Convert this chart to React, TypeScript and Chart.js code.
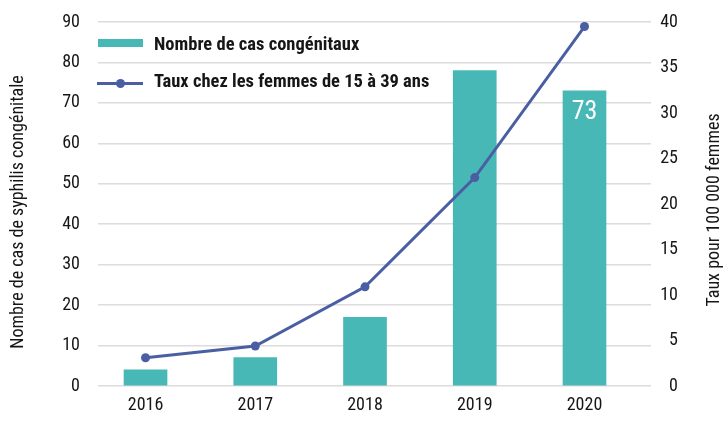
import React, { useEffect, useRef } from 'react';
import { Chart, registerables } from 'chart.js';

Chart.register(...registerables);

const years = ['2016', '2017', '2018', '2019', '2020'];
const congenitalCases = [4, 7, 17, 78, 73];
const rateWomen15to39 = [3.1, 4.4, 10.9, 22.9, 39.5];
const labelledBarIndex = 4;

const casesLabel = 'Nombre de cas congénitaux';
const rateLabel = 'Taux chez les femmes de 15 à 39 ans';
const leftTitle = 'Nombre de cas de syphilis congénitale';
const rightTitle = 'Taux pour 100 000 femmes';

const FONT = '"Roboto Condensed", "Liberation Sans Narrow", "DejaVu Sans Condensed", sans-serif';
const TEAL = '#48b8b7';
const BLUE = '#4a5fa3';
const TEXT = '#161616';

const barLabelPlugin = {
  id: 'barLabel',
  afterDatasetsDraw(chart: any) {
    const meta = chart.getDatasetMeta(1);
    const el = meta.data[labelledBarIndex];
    if (!el) return;
    const ctx = chart.ctx;
    ctx.save();
    ctx.fillStyle = '#ffffff';
    ctx.font = `26px ${FONT}`;
    ctx.textAlign = 'center';
    ctx.textBaseline = 'alphabetic';
    ctx.fillText(String(congenitalCases[labelledBarIndex]), el.x, el.y + 28);
    ctx.restore();
  },
};

const axisTitlePlugin = {
  id: 'axisTitles',
  afterDraw(chart: any) {
    const { ctx, chartArea } = chart;
    const cy = (chartArea.top + chartArea.bottom) / 2;
    ctx.save();
    ctx.font = `18px ${FONT}`;
    ctx.fillStyle = TEXT;
    ctx.textAlign = 'center';
    ctx.textBaseline = 'alphabetic';
    ctx.save();
    ctx.translate(23, cy + 8);
    ctx.rotate(-Math.PI / 2);
    ctx.fillText(leftTitle, 0, 0);
    ctx.restore();
    ctx.save();
    ctx.translate(719, cy + 6);
    ctx.rotate(-Math.PI / 2);
    ctx.fillText(rightTitle, 0, 0);
    ctx.restore();
    ctx.restore();
  },
};

const noPadY = (w: number) => (s: any) => {
  s.width = w;
  s.paddingTop = 0;
  s.paddingBottom = 0;
};

export default function App() {
  const canvasRef = useRef<HTMLCanvasElement | null>(null);

  useEffect(() => {
    const canvas = canvasRef.current;
    if (!canvas) return;
    const tickFont = { family: FONT, size: 18 };
    const chart = new Chart(canvas, {
      type: 'bar',
      data: {
        datasets: [
          {
            type: 'line',
            label: rateLabel,
            data: rateWomen15to39.map((v, i) => ({ x: i, y: v })),
            yAxisID: 'y1',
            borderColor: BLUE,
            backgroundColor: BLUE,
            borderWidth: 3,
            pointRadius: 4.5,
            pointBackgroundColor: BLUE,
            pointBorderWidth: 0,
            tension: 0,
            order: 0,
          } as any,
          {
            type: 'bar',
            label: casesLabel,
            data: congenitalCases.map((v, i) => ({ x: i, y: v })),
            yAxisID: 'y',
            backgroundColor: TEAL,
            borderWidth: 0,
            barThickness: 43,
            order: 1,
          } as any,
        ],
      },
      options: {
        animation: false,
        responsive: true,
        maintainAspectRatio: false,
        layout: { padding: { top: 22, left: 0, right: 47, bottom: 0 } },
        plugins: {
          legend: { display: false },
          tooltip: { enabled: false },
        },
        scales: {
          x: {
            type: 'linear',
            offset: false,
            min: -0.433,
            max: 4.606,
            grid: { display: false, drawTicks: false },
            border: { display: false },
            afterBuildTicks: (s: any) => {
              s.ticks = years.map((_, i) => ({ value: i }));
            },
            ticks: {
              font: tickFont,
              color: TEXT,
              padding: 9,
              autoSkip: false,
              maxRotation: 0,
              callback: (v: any) => years[Math.round(Number(v))] ?? '',
            },
            afterFit: (s: any) => {
              s.height = 36;
              s.paddingLeft = 0;
              s.paddingRight = 0;
            },
          } as any,
          y: {
            position: 'left',
            min: 0,
            max: 90,
            ticks: { stepSize: 10, font: tickFont, color: TEXT, padding: 18 },
            grid: { color: '#dcdcdc', lineWidth: 1.5, drawTicks: false },
            border: { display: false },
            afterFit: noPadY(98),
          },
          y1: {
            position: 'right',
            min: 0,
            max: 40,
            ticks: { stepSize: 5, font: tickFont, color: TEXT, padding: 10, crossAlign: 'far' } as any,
            grid: { display: false, drawTicks: false },
            border: { display: false },
            afterFit: noPadY(27),
          },
        },
      },
      plugins: [barLabelPlugin, axisTitlePlugin],
    });
    return () => chart.destroy();
  }, []);

  const legendText: React.CSSProperties = {
    fontFamily: FONT,
    fontWeight: 'bold',
    fontSize: 18.5,
    color: TEXT,
    position: 'absolute',
    left: 154,
    whiteSpace: 'nowrap',
    lineHeight: '20px',
  };

  return (
    <div style={{ position: 'fixed', left: 0, top: 0, width: 725, height: 422, background: '#fff' }}>
      <canvas ref={canvasRef} />
      <div style={{ position: 'absolute', left: 98, top: 39, width: 45, height: 8, background: TEAL }} />
      <div style={{ ...legendText, top: 34 }}>{casesLabel}</div>
      <div style={{ position: 'absolute', left: 97, top: 81.5, width: 46, height: 3, background: BLUE }} />
      <div
        style={{
          position: 'absolute',
          left: 115.5,
          top: 78.5,
          width: 9,
          height: 9,
          borderRadius: '50%',
          background: BLUE,
        }}
      />
      <div style={{ ...legendText, top: 71 }}>{rateLabel}</div>
    </div>
  );
}
